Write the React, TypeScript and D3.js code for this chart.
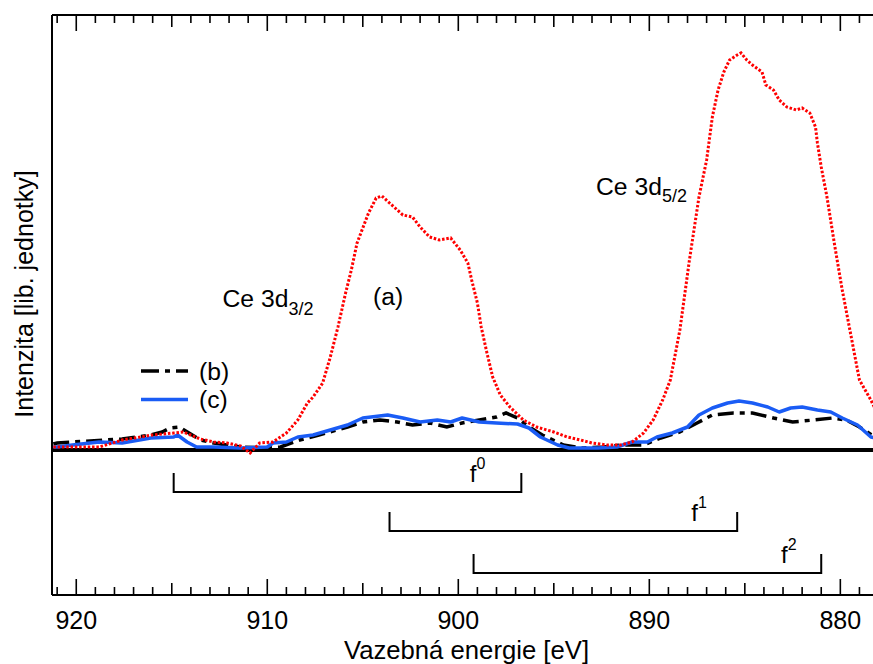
import React from "react";
import * as d3 from "d3";

// ---- Data (binding energy in eV, intensity in arbitrary units) ----
const energyA = [921.2, 920.9, 918.8, 918.1, 917.6, 916.0, 914.9, 914.4, 913.5, 912.8, 912.1, 911.4, 910.9, 910.4, 909.7, 909.0, 908.4, 907.9, 907.6, 907.1, 906.7, 906.3, 905.9, 905.6, 905.3, 904.7, 904.3, 904.0, 903.6, 902.9, 902.4, 902.0, 901.5, 901.0, 900.4, 899.9, 899.5, 899.3, 899.0, 898.8, 898.5, 898.2, 897.8, 897.3, 896.6, 895.9, 895.0, 894.3, 893.6, 893.0, 892.2, 891.5, 890.9, 890.3, 889.8, 889.3, 888.9, 888.4, 887.9, 887.4, 887.0, 886.7, 886.4, 886.1, 885.8, 885.4, 885.2, 884.9, 884.6, 884.1, 883.9, 883.5, 883.2, 882.8, 882.3, 882.0, 881.6, 881.3, 881.2, 881.0, 880.7, 880.3, 879.9, 879.5, 879.0, 878.4, 878.2];
const intensityA = [3, 3, 3, 7, 10, 15, 17, 18, 11, 8, 7, 4, -3, 7, 8, 17, 30, 47, 53, 67, 93, 123, 157, 180, 207, 237, 252, 254, 247, 235, 233, 223, 213, 210, 212, 200, 187, 170, 147, 123, 97, 73, 55, 43, 30, 23, 18, 13, 10, 7, 5, 5, 8, 17, 30, 50, 70, 120, 190, 253, 290, 333, 360, 378, 390, 395, 397, 390, 385, 378, 365, 360, 350, 343, 340, 342, 337, 323, 307, 283, 253, 205, 160, 120, 70, 50, 42];

const energyB = [921.2, 921.0, 920.2, 917.6, 916.1, 915.5, 915.1, 914.6, 914.1, 913.5, 912.8, 911.4, 910.0, 909.3, 908.9, 908.3, 907.3, 905.8, 905.0, 904.1, 903.2, 902.4, 901.5, 900.6, 899.8, 898.9, 898.0, 897.5, 896.9, 896.3, 895.6, 894.5, 893.5, 892.4, 891.4, 890.3, 889.4, 888.4, 887.5, 886.7, 885.6, 884.6, 883.5, 882.5, 881.4, 880.4, 879.7, 879.0, 878.2];
const intensityB = [6, 7, 8, 11, 15, 18, 22, 23, 17, 10, 7, 3, 2, 3, 6, 10, 15, 23, 28, 30, 28, 25, 27, 23, 27, 30, 33, 37, 32, 23, 15, 5, 2, 3, 5, 5, 12, 18, 27, 35, 37, 37, 32, 28, 30, 32, 30, 23, 13];

const energyC = [921.2, 921.0, 920.2, 918.8, 917.6, 916.1, 914.9, 914.7, 914.2, 913.7, 912.8, 911.4, 910.0, 909.7, 909.0, 908.4, 907.6, 906.7, 905.8, 905.0, 903.7, 902.9, 902.0, 901.1, 900.4, 899.8, 898.9, 898.0, 896.9, 896.3, 895.7, 894.8, 894.2, 892.7, 891.7, 890.9, 890.1, 889.6, 888.8, 888.0, 887.4, 886.7, 885.9, 885.3, 884.6, 883.8, 883.2, 882.6, 882.0, 881.2, 880.5, 879.9, 879.1, 878.4, 878.2];
const intensityC = [3, 3, 5, 8, 7, 12, 13, 15, 8, 3, 3, 2, 3, 7, 8, 13, 15, 20, 25, 32, 35, 32, 28, 30, 28, 32, 28, 27, 26, 22, 13, 5, 2, 2, 3, 8, 8, 13, 17, 23, 35, 42, 47, 49, 47, 43, 38, 42, 43, 40, 38, 32, 25, 13, 12];

// multiplet brackets f0, f1, f2 (3d3/2 and 3d5/2 positions)
const bracketNames = ["0", "1", "2"];
const bracketHigh = [914.9, 903.6, 899.2];
const bracketLow = [896.7, 885.4, 881.0];
const bracketLevel = [-42, -81, -123];
const bracketLabelE = [899.4, 887.8, 883.1];

const xTickLabels = [920, 910, 900, 890, 880];
const legendLabels = ["(b)", "(c)"];

const W = 873;
const H = 664;
const left = 52;
const right = 873;
const top = 15;
const bottom = 595;

const FONT = "'Liberation Sans', Arial, Helvetica, sans-serif";

export default function App() {
  const x = d3.scaleLinear().domain([921.27, 878.29]).range([left, right]);
  const y = d3.scaleLinear().domain([-145, 435]).range([bottom, top]);

  const mk = (es: number[], vs: number[]) =>
    d3
      .line<number>()
      .x((_, i) => x(es[i]))
      .y((v) => y(v))
      .curve(d3.curveLinear)(vs) || "";

  const pathA = mk(energyA, intensityA);
  const pathB = mk(energyB, intensityB);
  const pathC = mk(energyC, intensityC);

  const minorTicks = d3.range(879, 922, 1);
  const tickLen = (e: number) => (e % 10 === 0 ? 16 : e % 5 === 0 ? 12 : 8);

  const red = "#ff0000";
  const blue = "#1a5cf5";
  const bTick = 19;

  return (
    <svg
      width={W}
      height={H}
      style={{ position: "absolute", left: 0, top: 0, background: "#fff" }}
      fontFamily={FONT}
    >
      <defs>
        <clipPath id="plotClip">
          <rect x={left} y={top} width={right - left} height={bottom - top} />
        </clipPath>
      </defs>
      <rect x={0} y={0} width={W} height={H} fill="#fff" />

      {/* frame */}
      <line x1={left} x2={left} y1={top} y2={bottom} stroke="#000" strokeWidth={2} />
      <line x1={left} x2={right} y1={top} y2={top} stroke="#000" strokeWidth={2} />
      <line x1={left} x2={right} y1={bottom} y2={bottom} stroke="#000" strokeWidth={2} />

      {/* ticks */}
      {minorTicks.map((e) => (
        <g key={e}>
          <line x1={x(e)} x2={x(e)} y1={top} y2={top + tickLen(e)} stroke="#000" strokeWidth={1.6} />
          <line x1={x(e)} x2={x(e)} y1={bottom} y2={bottom - tickLen(e)} stroke="#000" strokeWidth={1.6} />
        </g>
      ))}
      {xTickLabels.map((e) => (
        <text key={e} x={x(e)} y={628.5} fontSize={25} textAnchor="middle" fill="#000">
          {e}
        </text>
      ))}

      <text x={466.5} y={659} fontSize={25.7} textAnchor="middle" fill="#000">
        Vazebná energie [eV]
      </text>
      <text
        transform={`translate(33,294) rotate(-90)`}
        fontSize={25}
        textAnchor="middle"
        fill="#000"
      >
        Intenzita [lib. jednotky]
      </text>

      {/* zero line */}
      <line x1={left} x2={right} y1={y(0)} y2={y(0)} stroke="#000" strokeWidth={4} />

      {/* curves */}
      <g clipPath="url(#plotClip)" fill="none">
        <path d={pathB} stroke="#000" strokeWidth={3.5} strokeDasharray="16 6 5 6" />
        <path d={pathC} stroke={blue} strokeWidth={3.5} strokeLinejoin="round" />
        <path d={pathA} stroke={red} strokeWidth={3} strokeDasharray="2.5 1.8" />
      </g>

      {/* brackets */}
      {bracketNames.map((n, i) => {
        const yy = y(bracketLevel[i]);
        const x1 = x(bracketHigh[i]);
        const x2 = x(bracketLow[i]);
        return (
          <g key={n}>
            <path
              d={`M${x1},${yy - bTick}V${yy}H${x2}V${yy - bTick}`}
              fill="none"
              stroke="#000"
              strokeWidth={2}
            />
            <text x={x(bracketLabelE[i])} y={yy - 10} fontSize={24} fill="#000">
              f
              <tspan fontSize={16} dy={-13}>
                {n}
              </tspan>
            </text>
          </g>
        );
      })}

      {/* annotations */}
      <text x={222.5} y={306.5} fontSize={24.7} fill="#000">
        Ce 3d
        <tspan fontSize={18} dy={8}>
          3/2
        </tspan>
      </text>
      <text x={596} y={195} fontSize={24.7} fill="#000">
        Ce 3d
        <tspan fontSize={18} dy={7}>
          5/2
        </tspan>
      </text>
      <text x={373} y={305} fontSize={24.7} fill="#000">
        (a)
      </text>

      {/* legend */}
      <line x1={141} x2={188} y1={371} y2={371} stroke="#000" strokeWidth={3.5} strokeDasharray="18 6 5 6" />
      <line x1={141} x2={188} y1={399.5} y2={399.5} stroke={blue} strokeWidth={3.5} />
      <text x={199} y={379.5} fontSize={24.7} fill="#000">
        {legendLabels[0]}
      </text>
      <text x={199} y={408} fontSize={24.7} fill="#000">
        {legendLabels[1]}
      </text>
    </svg>
  );
}
